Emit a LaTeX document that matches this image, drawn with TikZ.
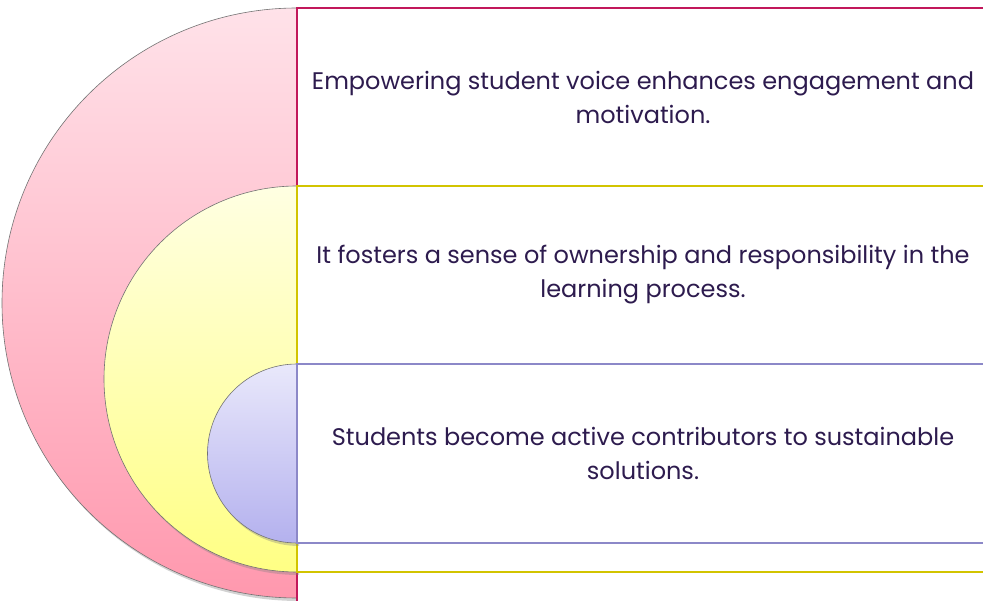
\documentclass[tikz,border=0pt]{standalone}
\usepackage{fontspec}
\setmainfont{Poppins}
\usetikzlibrary{shadows}
\definecolor{txt}{HTML}{2D1B4E}
\definecolor{pinkline}{HTML}{C2185B}
\definecolor{yelline}{HTML}{D2C400}
\definecolor{blueline}{HTML}{8C88C8}
\definecolor{pinktop}{HTML}{FFE2E9}
\definecolor{pinkbot}{HTML}{FF98AE}
\definecolor{yeltop}{HTML}{FFFFE2}
\definecolor{yelbot}{HTML}{FFFF84}
\definecolor{bluetop}{HTML}{E9E8FB}
\definecolor{bluebot}{HTML}{B4B1EE}
\begin{document}
\begin{tikzpicture}[x=1pt,y=1pt,
  disc/.style={draw=black!55, line width=0.6pt, drop shadow={shadow xshift=2pt, shadow yshift=-3pt, opacity=0.35}},
  box/.style={fill=white, line width=1.2pt},
  lbl/.style={text=txt, font=\fontsize{24}{34}\selectfont, align=center}]
\clip (0,0) rectangle (983,600);
\fill[white] (0,0) rectangle (983,600);
% pink
\draw[disc, top color=pinktop, bottom color=pinkbot] (297,592) arc (90:270:295) -- cycle;
\draw[box, draw=pinkline] (297,-10) rectangle (990,592);
% yellow
\draw[disc, top color=yeltop, bottom color=yelbot] (297,414) arc (90:270:193) -- cycle;
\draw[box, draw=yelline] (297,28) rectangle (990,414);
% blue
\draw[disc, top color=bluetop, bottom color=bluebot] (297,236) arc (90:270:89.5) -- cycle;
\draw[box, draw=blueline] (297,57) rectangle (990,236);
\node[lbl] (t1) at (643,503) {Empowering student voice enhances engagement and\\motivation.};
\node[lbl] (t2) at (643,325) {It fosters a sense of ownership and responsibility in the\\learning process.};
\node[lbl] (t3) at (643,146.5) {Students become active contributors to sustainable\\solutions.};
\end{tikzpicture}
\end{document}
